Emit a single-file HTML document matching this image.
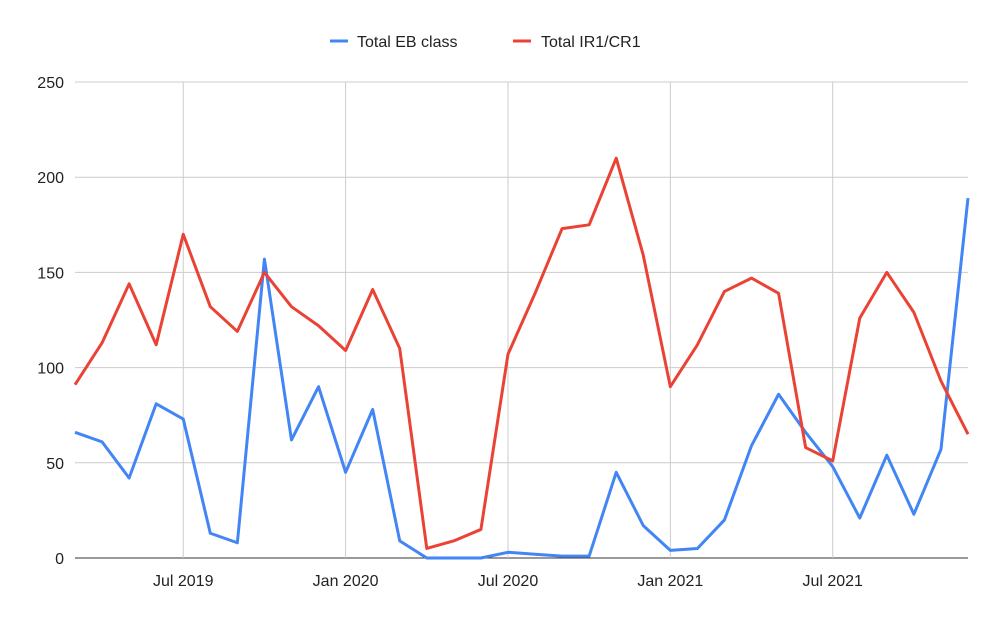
<!DOCTYPE html>
<html><head><meta charset="utf-8"><style>
body{margin:0;background:#fff;font-family:"Liberation Sans",Arial,sans-serif;}
svg{display:block}
</style></head><body>
<svg id="chart" width="1000" height="619" xmlns="http://www.w3.org/2000/svg">
<g id="legend">
<g><line x1="330" y1="41" x2="348" y2="41" stroke="#4285f4" stroke-width="3"/><text x="357" y="47" font-size="16" fill="#222">Total EB class</text></g>
<g><line x1="513" y1="41" x2="531" y2="41" stroke="#ea4335" stroke-width="3"/><text x="541" y="47" font-size="16" fill="#222">Total IR1/CR1</text></g>
</g>
<g id="grid"></g>
<g id="axes"></g>
<g id="series"></g>
</svg>
<script>
const months = ["2019-03","2019-04","2019-05","2019-06","2019-07","2019-08","2019-09","2019-10","2019-11","2019-12","2020-01","2020-02","2020-03","2020-04","2020-05","2020-06","2020-07","2020-08","2020-09","2020-10","2020-11","2020-12","2021-01","2021-02","2021-03","2021-04","2021-05","2021-06","2021-07","2021-08","2021-09","2021-10","2021-11","2021-12"];
const ebClass = [66,61,42,81,73,13,8,157,62,90,45,78,9,0,0,0,3,2,1,1,45,17,4,5,20,59,86,66,48,21,54,23,57,189];
const ir1Cr1 = [91,113,144,112,170,132,119,150,132,122,109,141,110,5,9,15,107,139,173,175,210,159,90,112,140,147,139,58,51,126,150,129,93,65];
const yTicks = [0,50,100,150,200,250];
const xTickLabels = ["Jul 2019","Jan 2020","Jul 2020","Jan 2021","Jul 2021"];
const xTickIndex = [4,10,16,22,28];

const X0=75,X1=968,Y0=558,Y1=82;
const xs=i=>X0+(X1-X0)*i/(months.length-1);
const ys=v=>Y0-(Y0-Y1)*v/250;
const NS="http://www.w3.org/2000/svg";
function mk(tag,attrs,parent){const e=document.createElementNS(NS,tag);for(const k in attrs)e.setAttribute(k,attrs[k]);parent.appendChild(e);return e;}
const grid=document.getElementById('grid'),axes=document.getElementById('axes'),series=document.getElementById('series');
yTicks.forEach(v=>{
  const l=mk('line',{x1:X0,x2:X1,y1:ys(v),y2:ys(v),stroke:v===0?'#333':'#ccc','stroke-width':1},grid);
  
  
  const t=mk('text',{x:64,y:ys(v)+6,'text-anchor':'end','font-size':16,fill:'#222'},axes);
  t.textContent=v;
  
  
});
xTickIndex.forEach((idx,k)=>{
  const l=mk('line',{x1:xs(idx),x2:xs(idx),y1:Y1,y2:Y0,stroke:'#ccc','stroke-width':1},grid);
  
  
  const t=mk('text',{x:xs(idx),y:586,'text-anchor':'middle','font-size':16,fill:'#222'},axes);
  t.textContent=xTickLabels[k];
  
  
});
function line(data,color,name){
  const p=mk('polyline',{points:data.map((v,i)=>xs(i)+','+ys(v)).join(' '),fill:'none',stroke:color,'stroke-width':3,'stroke-linejoin':'round'},series);
  
  
}
line(ebClass,'#4285f4','eb-class-line');
line(ir1Cr1,'#ea4335','ir1-cr1-line');
</script>
</body></html>
